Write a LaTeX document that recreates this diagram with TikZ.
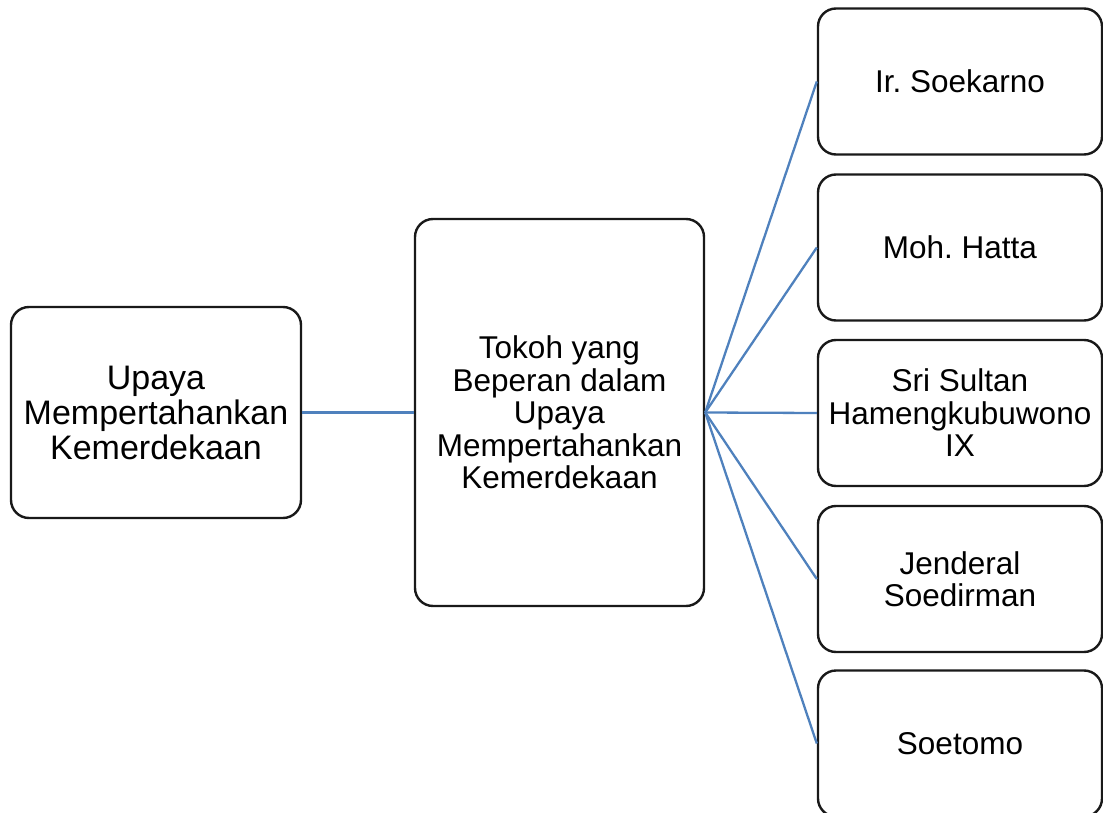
\documentclass[tikz,border=0pt]{standalone}
\usepackage{fontspec}
\setmainfont{Liberation Sans}
\definecolor{linkblue}{HTML}{4F81BD}
\frenchspacing
\begin{document}
\begin{tikzpicture}[x=1pt,y=-1pt,
  box/.style={draw=black!90, line width=2.4pt, rounded corners=18pt, fill=white, align=center, inner sep=0pt},
  link/.style={draw=linkblue, line width=2.3pt}]
\useasboundingbox (0,0) rectangle (1103,813);
\begin{scope}
\clip (0,0) rectangle (1103,813);
\node[box, minimum width=290pt, minimum height=211pt, font=\fontsize{34}{35}\selectfont] (root) at (156,412.5) {Upaya\\Mempertahankan\\Kemerdekaan};
\node[box, minimum width=289pt, minimum height=387pt, font=\fontsize{31.5}{32.5}\selectfont] (mid) at (559.5,412.5) {Tokoh yang\\Beperan dalam\\Upaya\\Mempertahankan\\Kemerdekaan};
\tikzset{rbox/.style={box, minimum width=284pt, minimum height=146pt, font=\fontsize{31.5}{32.5}\selectfont}}
\node[rbox] (r1) at (960,81.5) {Ir. Soekarno};
\node[rbox] (r2) at (960,247.5) {Moh. Hatta};
\node[rbox] (r3) at (960,413) {Sri Sultan\\Hamengkubuwono\\IX};
\node[rbox] (r4) at (960,579) {Jenderal\\Soedirman};
\node[rbox] (r5) at (960,743.5) {Soetomo};
\draw[link] (root.east) -- (mid.west);
\foreach \r in {r1,r2,r3,r4,r5} {
  \draw[link] (mid.east) -- (\r.west);
}
\end{scope}
\end{tikzpicture}
\end{document}
